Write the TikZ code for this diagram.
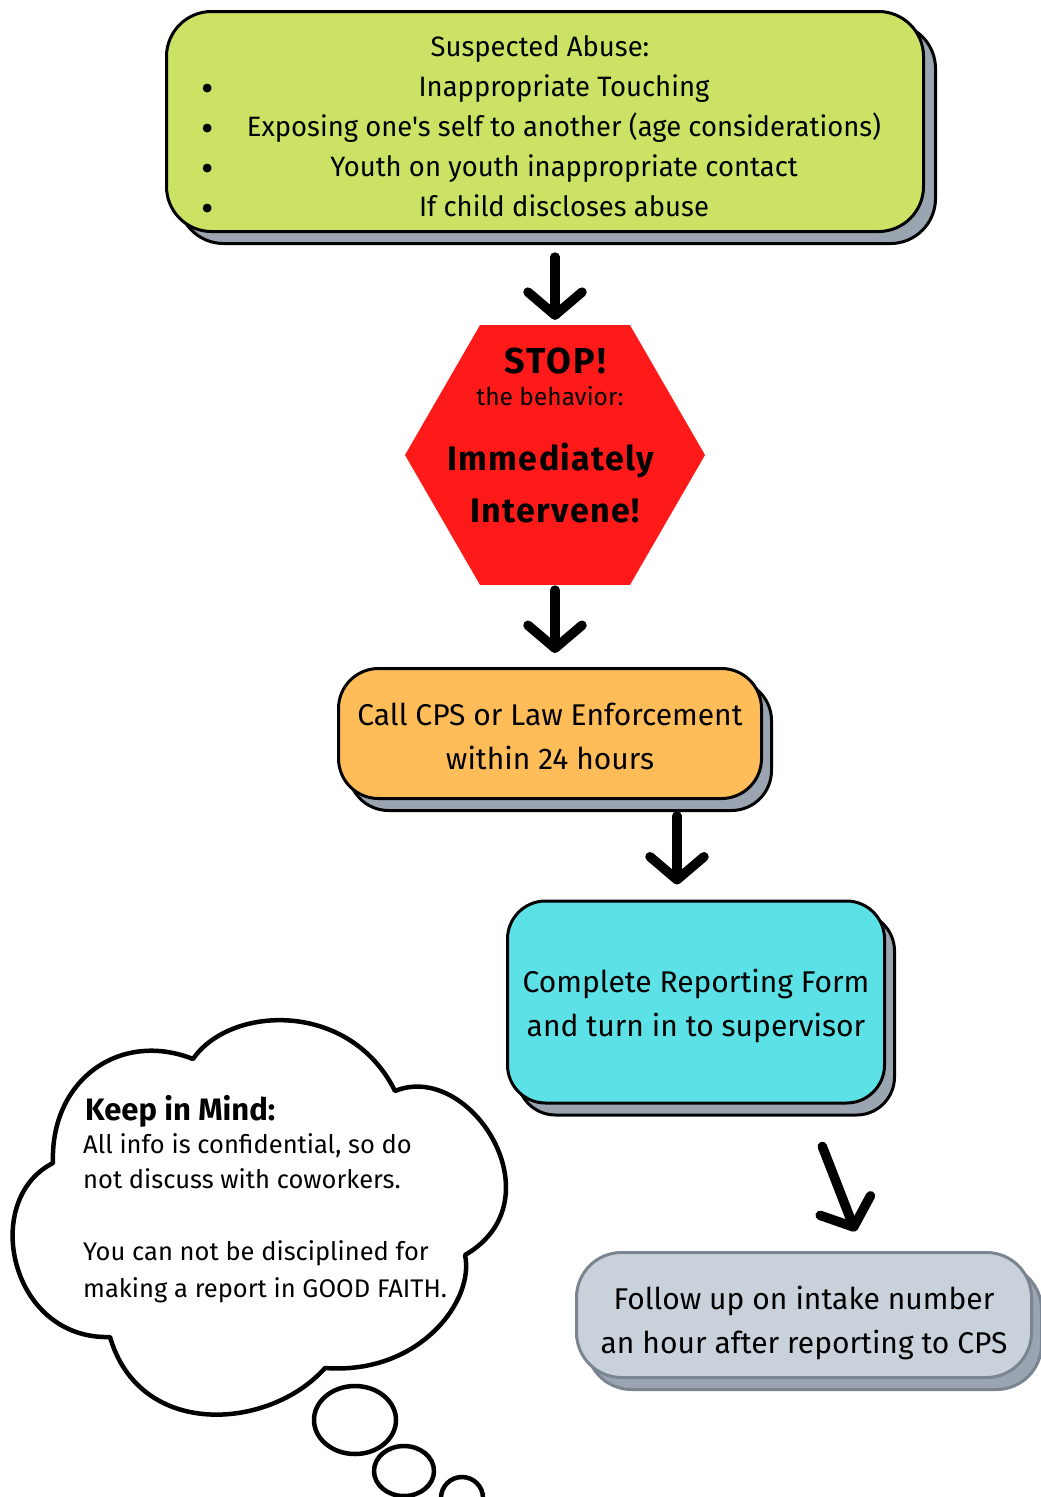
\documentclass[tikz,border=0pt]{standalone}
\usepackage{fontspec}
\setmainfont{Fira Sans}
\newfontfamily\narrowfont[FakeStretch=0.98]{Fira Sans}
\usetikzlibrary{arrows.meta,shapes.geometric,shadows}

\definecolor{limegreen}{HTML}{CCE265}
\definecolor{stopred}{HTML}{FF1A1A}
\definecolor{callorange}{HTML}{FFBD59}
\definecolor{formcyan}{HTML}{5CE1E6}
\definecolor{followgrey}{HTML}{C9D1DB}
\definecolor{shadowgrey}{HTML}{9AA5B1}
\definecolor{edgegrey}{HTML}{7A8591}

\tikzset{
  flowbox/.style={rectangle, rounded corners=#1, draw=black, line width=3pt, inner sep=0pt,
    align=center, font=\fontsize{30}{44}\selectfont},
  flowbox/.default=40pt,
  boxshadow/.style={drop shadow={shadow xshift=#1, shadow yshift=-12pt, fill=shadowgrey,
    draw=black, line width=3pt, opacity=1}},
  boxshadow/.default=10pt,
  flowarrow/.style={line width=9.5pt, line cap=round, -{Straight Barb[round, length=23pt, width=54pt]}},
  abusetext/.style={font=\narrowfont\fontsize{28}{40}\selectfont, inner sep=0pt},
  stoptext/.style={font=\bfseries\fontsize{34}{40}\selectfont\addfontfeatures{LetterSpace=4}, inner sep=0pt},
  mindtext/.style={font=\fontsize{25.5}{36}\selectfont, inner sep=0pt},
  cloudline/.style={draw=black, line width=4.5pt, fill=white},
}

\begin{document}
\begin{tikzpicture}[x=1pt, y=-1pt, line join=round, line cap=round]
\useasboundingbox (0,0) rectangle (1041,1497);

% suspected abuse
\node[flowbox=45pt, boxshadow=12pt, fill=limegreen, minimum width=757pt, minimum height=220pt] (suspect) at (545,121.5) {};
\node[abusetext, anchor=base] (abusehead) at (540,56) {Suspected Abuse:};
\foreach \y/\t in {96/Inappropriate Touching, 136/Exposing one's self to another (age considerations), 176/Youth on youth inappropriate contact, 216/If child discloses abuse} {
  \node[inner sep=0pt, font=\fontsize{38}{38}\selectfont] (dot\y) at (208,\y-3) {\textbullet};
  \node[abusetext, anchor=base] (sign\y) at (564,\y) {\t};
}

% stop sign
\node[regular polygon, regular polygon sides=6, minimum size=300pt, inner sep=0pt, fill=stopred] (stop) at (555,455) {};
\node[stoptext, font=\bfseries\fontsize{36}{40}\selectfont\addfontfeatures{LetterSpace=6}, anchor=base] (stopword) at (555,373) {STOP!};
\node[anchor=base, inner sep=0pt, font=\fontsize{24.5}{30}\selectfont] (stopnote) at (550,405) {the behavior:};
\node[stoptext, anchor=base] (stopact) at (551,470) {Immediately};
\node[stoptext, anchor=base] (stopact2) at (555,522) {Intervene!};

% steps
\node[flowbox, boxshadow, fill=callorange, minimum width=423pt, minimum height=130pt] (report) at (550,733.5)
  {\rule{0pt}{28pt}Call CPS or Law Enforcement\\within 24 hours};
\node[flowbox=38pt, boxshadow, fill=formcyan, minimum width=377pt, minimum height=202pt] (form) at (696,1002)
  {\rule{0pt}{32pt}Complete Reporting Form\\and turn in to supervisor};
\node[flowbox=45pt, draw=edgegrey, drop shadow={shadow xshift=10pt, shadow yshift=-12pt, fill=shadowgrey, draw=edgegrey, line width=3pt, opacity=1},
  fill=followgrey, minimum width=455pt, minimum height=125pt] (followup) at (804,1315)
  {\rule{0pt}{40pt}Follow up on intake number\\an hour after reporting to CPS};

% arrows
\draw[flowarrow, shorten <=24pt, shorten >=5pt] (suspect.south -| stop.north) -- (stop.north);
\draw[flowarrow, shorten <=5pt, shorten >=14pt] (stop.south) -- (stop.south |- report.north);
\draw[flowarrow, shorten <=16pt, shorten >=15pt] ([xshift=127pt]report.south) -- ([xshift=127pt]report.south |- form.north);
\draw[flowarrow, shorten <=45pt, shorten >=21pt] ([xshift=110pt]form.south) -- ([xshift=59pt]followup.north);

% thought cloud
\draw[cloudline] (53,1163) .. controls (50,1080) and (120,1030) .. (193,1059)
  .. controls (230,1005) and (350,1000) .. (395,1091)
  .. controls (470,1060) and (560,1200) .. (465,1255)
  .. controls (475,1300) and (420,1375) .. (325,1368)
  .. controls (270,1430) and (140,1440) .. (110,1337)
  .. controls (10,1340) and (-20,1200) .. cycle;
\draw[cloudline] (355,1420) ellipse [x radius=41, y radius=34];
\draw[cloudline] (404,1471) ellipse [x radius=30, y radius=25];
\draw[cloudline] (462,1498) ellipse [x radius=21, y radius=21];
\node[anchor=base west, inner sep=0pt, font=\bfseries\fontsize{31}{36}\selectfont] (mindhead) at (85,1120) {Keep in Mind:};
\foreach \y/\t in {1153/{All info is confidential, so do}, 1188/{not discuss with coworkers.}, 1260/{You can not be disciplined for}, 1297/{making a report in GOOD FAITH.}}
  \node[mindtext, anchor=base west] (mind\y) at (83,\y) {\t};
\end{tikzpicture}
\end{document}
